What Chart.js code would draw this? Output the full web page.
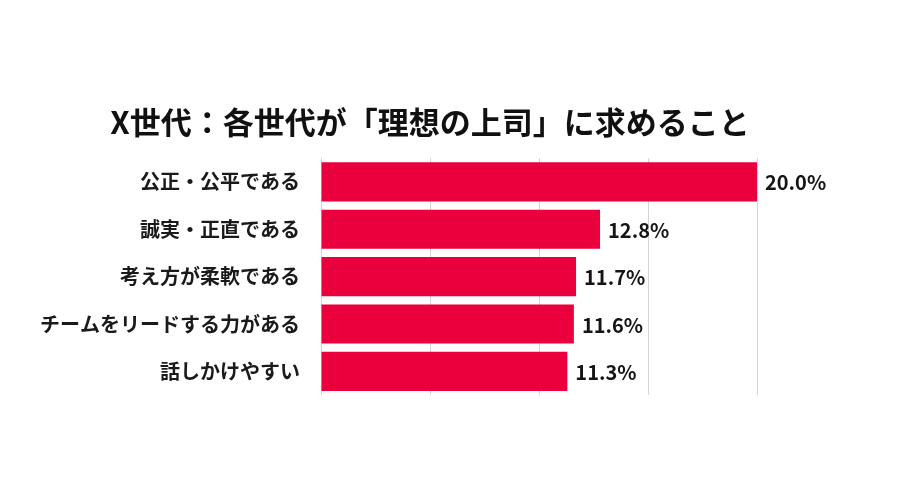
<!DOCTYPE html>
<html>
<head>
<meta charset="utf-8">
<script src="https://cdn.jsdelivr.net/npm/chart.js@4"></script>
<style>
  html, body { margin: 0; padding: 0; background: #ffffff; }
  #wrap { width: 900px; height: 500px; }
</style>
</head>
<body>
<div id="wrap"><canvas id="c" width="900" height="500"></canvas></div>
<script>
const titleText = "X世代：各世代が「理想の上司」に求めること";
const categories = ["公正・公平である", "誠実・正直である", "考え方が柔軟である", "チームをリードする力がある", "話しかけやすい"];
const values = [20.0, 12.8, 11.7, 11.6, 11.3];
const xTicks = [0, 5, 10, 15, 20];

const FONT = "'Noto Sans CJK JP', 'Noto Sans', sans-serif";

const valueLabels = {
  id: 'valueLabels',
  afterDatasetsDraw(chart) {
    const ctx = chart.ctx;
    const meta = chart.getDatasetMeta(0);
    ctx.save();
    ctx.font = "bold 20px " + FONT;
    ctx.fillStyle = "#151515";
    ctx.textAlign = "left";
    ctx.textBaseline = "middle";
    meta.data.forEach((bar, i) => {
      ctx.fillText(values[i].toFixed(1) + "%", bar.x + 8, bar.y + 1);
    });
    ctx.restore();
  }
};

// centre the title over the span used in the reference
const titleSpan = {
  id: 'titleSpan',
  afterLayout(chart) {
    const t = chart.titleBlock;
    if (t) { t.left = 103; t.right = 757; t.width = 654; }
  }
};

new Chart(document.getElementById('c'), {
  type: 'bar',
  data: {
    labels: categories,
    datasets: [{
      data: values,
      backgroundColor: '#E9003C',
      borderWidth: 0,
      barPercentage: 0.826,
      categoryPercentage: 1.0
    }]
  },
  options: {
    indexAxis: 'y',
    responsive: false,
    animation: false,
    devicePixelRatio: 1,
    layout: { padding: { left: 20, right: 143, top: 88, bottom: 105 } },
    plugins: {
      legend: { display: false },
      tooltip: { enabled: false },
      title: {
        display: true,
        text: titleText,
        align: 'center',
        color: '#111111',
        font: { family: FONT, size: 31, weight: 'bold' },
        padding: { top: 16, bottom: 17 }
      }
    },
    scales: {
      x: {
        min: 0,
        max: 20,
        afterBuildTicks(scale) { scale.ticks = xTicks.map(v => ({ value: v })); },
        ticks: { display: false },
        grid: { color: '#d4d4d4', lineWidth: 1, drawTicks: false },
        border: { display: false }
      },
      y: {
        afterFit(scale) { scale.width = 301; },
        ticks: {
          color: '#1a1a1a',
          padding: 21,
          font: { family: FONT, size: 20, weight: 'bold' }
        },
        grid: { display: false, drawTicks: false },
        border: { display: false }
      }
    }
  },
  plugins: [valueLabels, titleSpan]
});
</script>
</body>
</html>
